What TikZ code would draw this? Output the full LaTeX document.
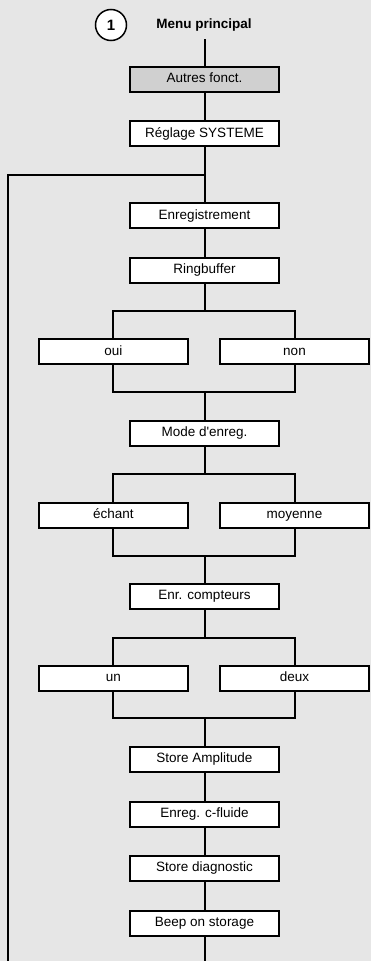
\documentclass[tikz,border=0pt]{standalone}
\usepackage{fontspec}
\setmainfont{Liberation Sans}[Ligatures=TeXOff]
\definecolor{bgcol}{RGB}{230,230,230}
\definecolor{graybox}{RGB}{208,208,208}
\begin{document}
\begin{tikzpicture}[x=1pt,y=-1pt,
  box/.style={draw=black, line width=2pt, fill=white, minimum width=149pt, minimum height=25pt, inner sep=0pt, text height=9.8pt, text depth=2.6pt, font=\fontsize{13.5}{15}\selectfont},
  link/.style={draw=black, line width=2pt, line join=miter}]
\fill[bgcol] (0,0) rectangle (371,961);
\useasboundingbox (0,0) rectangle (371,961);
\node[circle, draw=black, line width=1.5pt, fill=white, minimum size=31pt, inner sep=0pt, font=\bfseries\fontsize{15}{16}\selectfont] (one) at (111,25) {1};
\node[font=\bfseries\fontsize{13.5}{15}\selectfont] (title) at (204,25) {Menu principal};
\coordinate (top) at (204.5,39);
\node[box, fill=graybox] (autres) at (204.5,79.3) {Autres fonct.};
\node[box] (reglage) at (204.5,133.8) {Réglage SYSTEME};
\coordinate (loop) at (204.5,174.7);
\coordinate (loopL) at (7.5,174.7);
\coordinate (loopB) at (7.5,961);
\node[box] (enreg) at (204.5,215.5) {Enregistrement};
\node[box] (ring) at (204.5,270) {Ringbuffer};
\coordinate (s1) at (204.5,310.7);
\coordinate (s1l) at (113.3,310.7);
\coordinate (s1r) at (294.5,310.7);
\node[box] (oui) at (113.3,351.5) {oui};
\node[box] (non) at (294.5,351.5) {non};
\coordinate (j1) at (204.5,391.7);
\coordinate (j1l) at (113.3,391.7);
\coordinate (j1r) at (294.5,391.7);
\node[box] (mode) at (204.5,433.3) {Mode d'enreg.};
\coordinate (s2) at (204.5,474);
\coordinate (s2l) at (113.3,474);
\coordinate (s2r) at (294.5,474);
\node[box] (ech) at (113.3,515) {échant};
\node[box] (moy) at (294.5,515) {moyenne};
\coordinate (j2) at (204.5,555.7);
\coordinate (j2l) at (113.3,555.7);
\coordinate (j2r) at (294.5,555.7);
\node[box] (cpt) at (204.5,596.3) {Enr. compteurs};
\coordinate (s3) at (204.5,638.3);
\coordinate (s3l) at (113.3,638.3);
\coordinate (s3r) at (294.5,638.3);
\node[box] (un) at (113.3,678) {un};
\node[box] (deux) at (294.5,678) {deux};
\coordinate (j3) at (204.5,718.3);
\coordinate (j3l) at (113.3,718.3);
\coordinate (j3r) at (294.5,718.3);
\node[box] (amp) at (204.5,759.3) {Store Amplitude};
\node[box] (fluide) at (204.5,814.3) {Enreg. c-fluide};
\node[box] (diag) at (204.5,868.3) {Store diagnostic};
\node[box] (beep) at (204.5,923.3) {Beep on storage};
\coordinate (bottom) at (204.5,961);
% connectors
\draw[link] (top) -- (autres.north);
\draw[link] (autres.south) -- (reglage.north);
\draw[link] (reglage.south) -- (loop) -- (enreg.north);
\draw[link] (loop) -- (loopL) -- (loopB);
\draw[link] (enreg.south) -- (ring.north);
\draw[link] (ring.south) -- (s1);
\draw[link] (oui.north) -- (s1l) -- (s1r) -- (non.north);
\draw[link] (oui.south) -- (j1l) -- (j1r) -- (non.south);
\draw[link] (j1) -- (mode.north);
\draw[link] (mode.south) -- (s2);
\draw[link] (ech.north) -- (s2l) -- (s2r) -- (moy.north);
\draw[link] (ech.south) -- (j2l) -- (j2r) -- (moy.south);
\draw[link] (j2) -- (cpt.north);
\draw[link] (cpt.south) -- (s3);
\draw[link] (un.north) -- (s3l) -- (s3r) -- (deux.north);
\draw[link] (un.south) -- (j3l) -- (j3r) -- (deux.south);
\draw[link] (j3) -- (amp.north);
\draw[link] (amp.south) -- (fluide.north);
\draw[link] (fluide.south) -- (diag.north);
\draw[link] (diag.south) -- (beep.north);
\draw[link] (beep.south) -- (bottom);
\end{tikzpicture}
\end{document}
